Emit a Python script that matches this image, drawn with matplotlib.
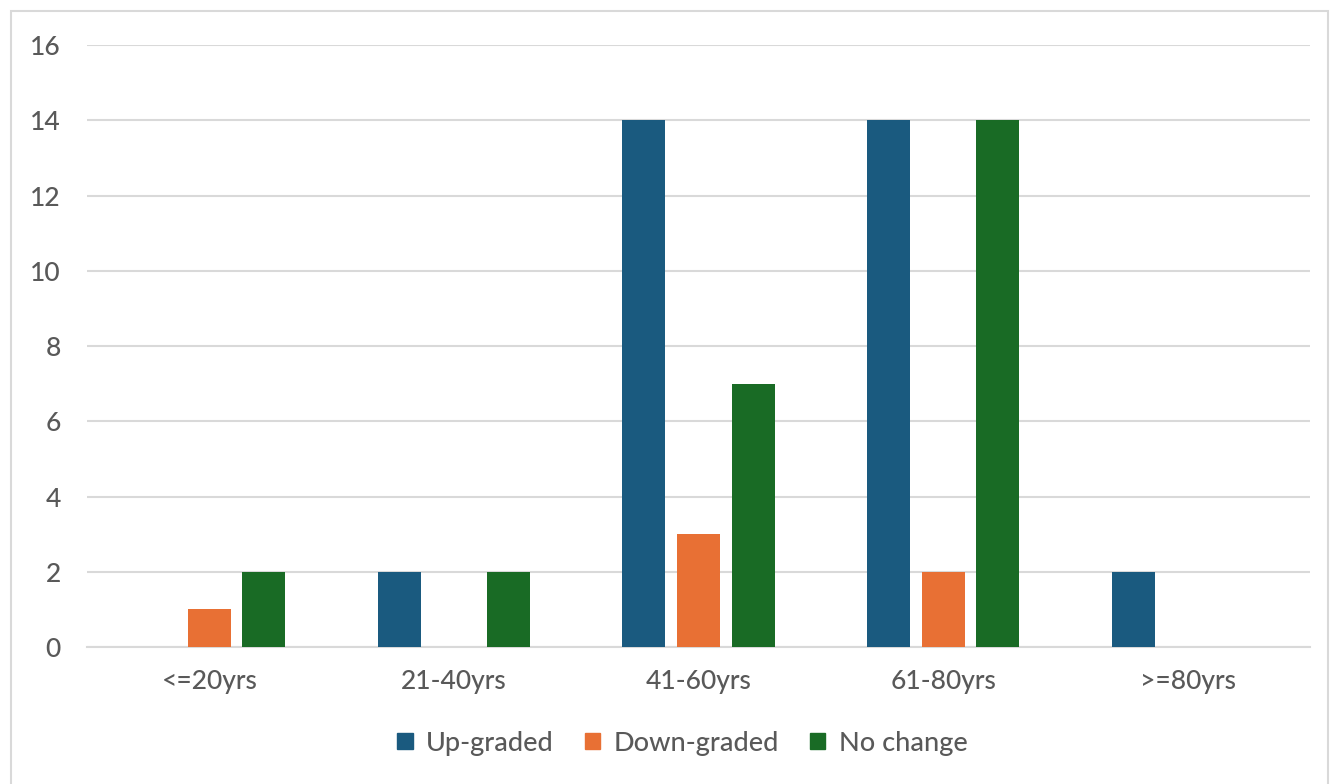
import matplotlib.pyplot as plt
import matplotlib.patches as mpatches
import numpy as np

plt.rcParams['font.family'] = ['Lato', 'DejaVu Sans']
plt.rcParams['font.weight'] = 'medium'

age_groups = ["<=20yrs", "21-40yrs", "41-60yrs", "61-80yrs", ">=80yrs"]
upgraded = [0, 2, 14, 14, 2]
downgraded = [1, 0, 3, 2, 0]
no_change = [2, 2, 7, 14, 0]

series = [
    ("Up-graded", upgraded, "#1A5A7F"),
    ("Down-graded", downgraded, "#E87034"),
    ("No change", no_change, "#196B25"),
]

text_color = "#595959"
grid_color = "#D9D9D9"

fig = plt.figure(figsize=(13.33, 7.84), dpi=100)
ax = fig.add_axes([0.0653, 0.1747, 0.9174, 0.7679])

x = np.arange(len(age_groups))
width = 0.176
offset = 0.223
handles = []
for i, (name, vals, color) in enumerate(series):
    ax.bar(x + (i - 1) * offset, vals, width, color=color, zorder=3)
    handles.append(mpatches.Patch(color=color, label=name))

ax.set_xlim(-0.5, len(age_groups) - 0.5)
ax.set_ylim(0, 16)
ax.set_yticks(range(0, 17, 2))
ax.set_xticks(x)
ax.set_xticklabels(age_groups)

ax.yaxis.grid(True, color=grid_color, linewidth=1.5, zorder=0)
for side in ["top", "right", "left"]:
    ax.spines[side].set_visible(False)
ax.spines["bottom"].set_color(grid_color)
ax.spines["bottom"].set_linewidth(1.5)
ax.tick_params(axis="both", length=0, labelsize=19, labelcolor=text_color)
ax.tick_params(axis="y", pad=19)
ax.tick_params(axis="x", pad=16)

fig.legend(handles=handles, loc="center", bbox_to_anchor=(0.512, 0.052), ncol=3,
           frameon=False, fontsize=19.5, labelcolor=text_color,
           handlelength=0.56, handleheight=0.56, handletextpad=0.5, columnspacing=1.15)

# thin frame around the whole chart
fig.patches.append(mpatches.Rectangle((0.008, -0.01), 0.988, 0.996, transform=fig.transFigure,
                                      fill=False, edgecolor="#D9D9D9", linewidth=1.5))

fig.savefig("out.png", dpi=100)
